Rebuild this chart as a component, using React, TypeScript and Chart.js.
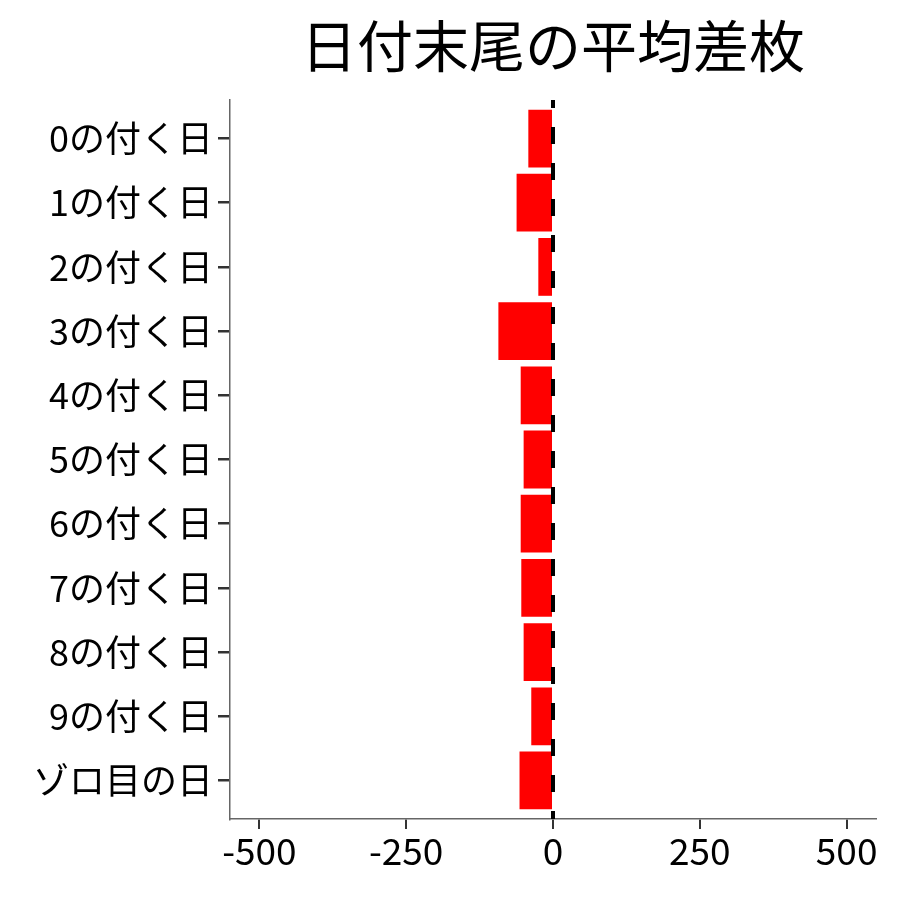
import { useEffect, useRef } from "react";
import Chart from "chart.js/auto";

const title = "日付末尾の平均差枚";
const categories = [
  "0の付く日",
  "1の付く日",
  "2の付く日",
  "3の付く日",
  "4の付く日",
  "5の付く日",
  "6の付く日",
  "7の付く日",
  "8の付く日",
  "9の付く日",
  "ゾロ目の日",
];
const avgDiff = [-42, -62, -25, -93, -55, -50, -55, -54, -50, -37, -57];
const xTicks = [-500, -250, 0, 250, 500];
const xMin = -550;
const xMax = 550;

const FONT = "'Noto Sans CJK JP', 'Noto Sans', sans-serif";

// dashed reference line at zero + title centred over the panel (like ggplot)
const extras = {
  id: "extras",
  afterDatasetsDraw(chart: any) {
    const { ctx, chartArea } = chart;
    const x0 = chart.scales.x.getPixelForValue(0);
    ctx.save();
    ctx.strokeStyle = "#000";
    ctx.lineWidth = 4;
    ctx.setLineDash([17, 19]);
    ctx.lineDashOffset = 9;
    ctx.beginPath();
    ctx.moveTo(x0, chartArea.top);
    ctx.lineTo(x0, chartArea.bottom);
    ctx.stroke();
    ctx.restore();
  },
  afterDraw(chart: any) {
    const { ctx, chartArea } = chart;
    ctx.save();
    ctx.fillStyle = "#000";
    ctx.font = `56px ${FONT}`;
    ctx.textAlign = "center";
    ctx.textBaseline = "middle";
    ctx.fillText(title, (chartArea.left + chartArea.right) / 2, 46);
    ctx.restore();
  },
};

export default function App() {
  const chartRef = useRef<HTMLCanvasElement>(null);

  useEffect(() => {
    document.body.style.margin = "0";
    const chart = new Chart(chartRef.current!, {
      type: "bar",
      data: {
        datasets: [
          {
            data: avgDiff.map((v, i) => ({ x: v, y: i })),
            backgroundColor: "#ff0000",
            borderWidth: 0,
            barPercentage: 0.9,
            categoryPercentage: 1,
          },
        ],
      },
      options: {
        indexAxis: "y",
        responsive: false,
        animation: false,
        devicePixelRatio: 1,
        layout: { padding: { top: 100, right: 24, left: 0, bottom: 0 } },
        plugins: {
          legend: { display: false },
          tooltip: { enabled: false },
          title: { display: false },
        },
        scales: {
          x: {
            type: "linear",
            min: xMin,
            max: xMax,
            afterBuildTicks: (scale: any) => {
              scale.ticks = xTicks.map((v) => ({ value: v }));
            },
            afterFit: (scale: any) => {
              scale.height = 81;
            },
            border: { display: true, color: "#666", width: 1.5 },
            grid: {
              drawOnChartArea: false,
              drawTicks: true,
              tickLength: 10,
              color: "#333",
              lineWidth: 2,
            },
            ticks: {
              color: "#000",
              font: { family: FONT, size: 37 },
              padding: 0,
              maxRotation: 0,
              callback: (v: any) => String(v),
            },
          },
          y: {
            type: "linear",
            reverse: true,
            offset: false,
            min: -0.6,
            max: categories.length - 1 + 0.6,
            afterBuildTicks: (scale: any) => {
              scale.ticks = categories.map((_, i) => ({ value: i }));
            },
            afterFit: (scale: any) => {
              scale.width = 230;
            },
            border: { display: true, color: "#666", width: 1.5 },
            grid: {
              offset: false,
              drawOnChartArea: false,
              drawTicks: true,
              tickLength: 12,
              color: "#333",
              lineWidth: 2.5,
            },
            ticks: {
              color: "#000",
              font: { family: FONT, size: 36 },
              padding: 5,
              autoSkip: false,
              callback: (v: any) => categories[v] ?? "",
            },
          },
        },
      },
      plugins: [extras],
    });
    return () => chart.destroy();
  }, []);

  return (
    <div style={{ width: 900, height: 900, background: "#fff" }}>
      <canvas ref={chartRef} width={900} height={900} style={{ display: "block" }}></canvas>
    </div>
  );
}
